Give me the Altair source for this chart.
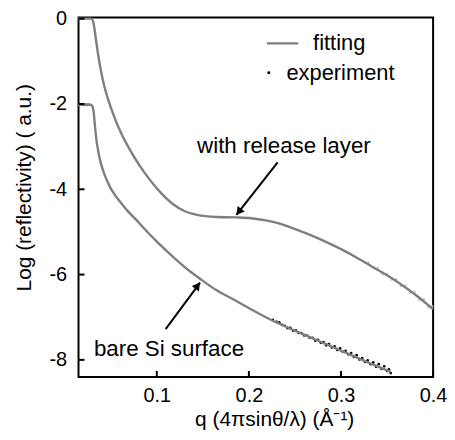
import altair as alt
import pandas as pd

# ---- fitted curves ----
q_release = [0.0146, 0.0285, 0.0306, 0.0322, 0.0340, 0.0360, 0.0388, 0.0423, 0.0477, 0.0541,
             0.0616, 0.0712, 0.0808, 0.0925, 0.1042, 0.1170, 0.1299, 0.1437, 0.1650, 0.1864,
             0.2024, 0.2184, 0.2344, 0.2473, 0.2643, 0.2825, 0.3006, 0.3177, 0.3358, 0.3540,
             0.3711, 0.3860, 0.3999]
r_release = [0.00, 0.00, -0.05, -0.22, -0.50, -0.80, -1.16, -1.52, -1.93, -2.32,
             -2.70, -3.09, -3.43, -3.78, -4.08, -4.34, -4.51, -4.60, -4.65, -4.66,
             -4.68, -4.73, -4.81, -4.91, -5.05, -5.22, -5.41, -5.61, -5.84, -6.07,
             -6.32, -6.56, -6.81]

q_bare = [0.0146, 0.0285, 0.0300, 0.0315, 0.0330, 0.0345, 0.0365, 0.0390, 0.0420, 0.0460,
          0.0500, 0.0550, 0.0600, 0.0680, 0.0770, 0.0850, 0.1020, 0.1200, 0.1370, 0.1490,
          0.1650, 0.1864, 0.2003, 0.2238, 0.2505, 0.2771, 0.3006, 0.3273, 0.3540]
r_bare = [-2.02, -2.02, -2.05, -2.20, -2.55, -2.85, -3.12, -3.37, -3.58, -3.80,
          -3.98, -4.15, -4.29, -4.50, -4.70, -4.89, -5.27, -5.63, -5.94, -6.13,
          -6.37, -6.62, -6.79, -7.06, -7.32, -7.57, -7.79, -8.04, -8.28]

# ---- experimental points (visible parts) ----
q_exp_bare = [0.0155, 0.017, 0.019, 0.021, 0.023, 0.025, 0.027,
              0.226, 0.230, 0.233, 0.236, 0.239, 0.242, 0.245, 0.248, 0.251, 0.254,
              0.257, 0.260, 0.263, 0.266, 0.269, 0.272, 0.275, 0.278, 0.281, 0.284,
              0.287, 0.290, 0.293, 0.296, 0.299, 0.302, 0.305, 0.308, 0.311, 0.314,
              0.317, 0.320, 0.323, 0.326, 0.329, 0.332, 0.335, 0.338, 0.341, 0.344,
              0.347, 0.350, 0.352, 0.354]
r_exp_bare = [-2.00, -2.01, -2.02, -2.02, -2.02, -2.02, -2.02,
              -7.06, -7.11, -7.12, -7.18, -7.20, -7.26, -7.25, -7.32, -7.31, -7.37,
              -7.37, -7.43, -7.43, -7.48, -7.48, -7.55, -7.53, -7.60, -7.58, -7.66,
              -7.63, -7.71, -7.68, -7.77, -7.73, -7.81, -7.79, -7.87, -7.84, -7.93,
              -7.89, -7.99, -7.96, -8.05, -8.01, -8.10, -8.06, -8.16, -8.10, -8.21,
              -8.15, -8.26, -8.22, -8.31]

q_exp_release = [0.330, 0.335, 0.340, 0.345, 0.350, 0.355, 0.360, 0.365, 0.370, 0.375,
                 0.380, 0.385, 0.390, 0.395, 0.399]
r_exp_release = [-5.72, -5.84, -5.84, -5.99, -5.98, -6.12, -6.11, -6.27, -6.26, -6.42,
                 -6.40, -6.59, -6.58, -6.76, -6.75]

# ---- axes ----
x_ticks = [0.1, 0.2, 0.3, 0.4]
y_ticks = [0, -2, -4, -6, -8]

# ---- annotations ----
ann_text = ["with release layer", "bare Si surface"]
ann_q = [0.1437, 0.0317]
ann_r = [-2.98, -7.74]

arrow_q1 = [0.2312, 0.1096]
arrow_r1 = [-3.37, -7.28]
arrow_q2 = [0.1864, 0.1470]
arrow_r2 = [-4.60, -6.19]
head_q = [0.1890, 0.1444]
head_r = [-4.53, -6.26]
head_angle = [218, 37]

# ---- legend ----
leg_labels = ["fitting", "experiment"]
leg_text_q = [0.2697, 0.2408]
leg_r = [-0.58, -1.27]
leg_line_q = [0.2195, 0.2537]
leg_dot_q = [0.2216]

FONT = "Liberation Sans"
GRAY = "#7f7f7f"

xs = alt.Scale(domain=[0.015, 0.4], nice=False, zero=False)
ys = alt.Scale(domain=[-8.4, 0.03], nice=False, zero=False)

X_AX = alt.Axis(values=x_ticks, format=".1f", title="q (4πsinθ/λ) (Å⁻¹)", labelFlush=False,
                titleX=197, titleY=43, titleBaseline="middle", titleAlign="center")
Y_AX = alt.Axis(values=y_ticks, title="Log (reflectivity) ( a.u.)", labelFlush=False,
                labelExpr="datum.value == 0 ? '0' : '-' + abs(datum.value)",
                titleX=-54, titleY=171, titleBaseline="middle", titleAlign="center", titleAngle=270)


def X(field):
    return alt.X(field, scale=xs, axis=X_AX)


def Y(field):
    return alt.Y(field, scale=ys, axis=Y_AX)


fit_df = pd.DataFrame({
    "q": q_release + q_bare,
    "r": r_release + r_bare,
    "s": ["release"] * len(q_release) + ["bare"] * len(q_bare),
})
exp_bare_df = pd.DataFrame({"q": q_exp_bare, "r": r_exp_bare})
exp_rel_df = pd.DataFrame({"q": q_exp_release, "r": r_exp_release})

exp_rel = alt.Chart(exp_rel_df).mark_circle(size=6, color="#c4c4c4", opacity=1).encode(
    x=X("q:Q"), y=Y("r:Q"))
exp_bare = alt.Chart(exp_bare_df).mark_circle(size=7, color="black", opacity=1).encode(
    x=X("q:Q"), y=Y("r:Q"))
fits = alt.Chart(fit_df).mark_line(color=GRAY, strokeWidth=2.4, interpolate="monotone", clip=False).encode(
    x=X("q:Q"), y=Y("r:Q"), detail="s:N")

xt = alt.Chart(pd.DataFrame({"v": x_ticks})).mark_rule(color="black", strokeWidth=2).encode(
    x=X("v:Q"), y=alt.value(362), y2=alt.value(356))
yt = alt.Chart(pd.DataFrame({"v": y_ticks})).mark_rule(color="black", strokeWidth=2).encode(
    y=Y("v:Q"), x=alt.value(0), x2=alt.value(6))

arrows = alt.Chart(pd.DataFrame({"q1": arrow_q1, "r1": arrow_r1, "q2": arrow_q2, "r2": arrow_r2})
                   ).mark_rule(color="black", strokeWidth=2).encode(
    x=X("q1:Q"), y=Y("r1:Q"), x2="q2:Q", y2="r2:Q")
heads = alt.Chart(pd.DataFrame({"q": head_q, "r": head_r, "a": head_angle})
                  ).mark_point(shape="triangle-up", filled=True, size=80, color="black", opacity=1).encode(
    x=X("q:Q"), y=Y("r:Q"), angle=alt.Angle("a:Q", scale=None))

ann = alt.Chart(pd.DataFrame({"q": ann_q, "r": ann_r, "t": ann_text})).mark_text(
    align="left", baseline="middle", fontSize=22.5, font=FONT, color="black").encode(
    x=X("q:Q"), y=Y("r:Q"), text="t:N")

leg_txt = alt.Chart(pd.DataFrame({"q": leg_text_q, "r": leg_r, "t": leg_labels})).mark_text(
    align="left", baseline="middle", fontSize=22, font=FONT, color="black").encode(
    x=X("q:Q"), y=Y("r:Q"), text="t:N")
leg_line = alt.Chart(pd.DataFrame({"q1": [leg_line_q[0]], "q2": [leg_line_q[1]], "r": [leg_r[0]]})
                     ).mark_rule(color=GRAY, strokeWidth=2.4).encode(
    x=X("q1:Q"), x2="q2:Q", y=Y("r:Q"))
leg_dot = alt.Chart(pd.DataFrame({"q": leg_dot_q, "r": [leg_r[1]]})).mark_circle(
    size=9, color="black", opacity=1).encode(
    x=X("q:Q"), y=Y("r:Q"))

chart = alt.layer(exp_rel, exp_bare, fits, xt, yt, arrows, heads, ann, leg_txt, leg_line, leg_dot).properties(
    width=357, height=362,
    autosize=alt.AutoSizeParams(type="none"),
    padding={"left": 71, "top": 8, "right": 14, "bottom": 54},
).configure_view(
    stroke="black", strokeWidth=2
).configure_axis(
    domain=False, ticks=False, grid=False,
    labelFont=FONT, labelFontSize=20, labelColor="black",
    titleFont=FONT, titleFontSize=21, titleFontWeight="normal", titleColor="black",
).configure_axisX(labelPadding=9).configure_axisY(labelPadding=12)

chart.save("out.html", embed_options={"renderer": "svg", "actions": False})
